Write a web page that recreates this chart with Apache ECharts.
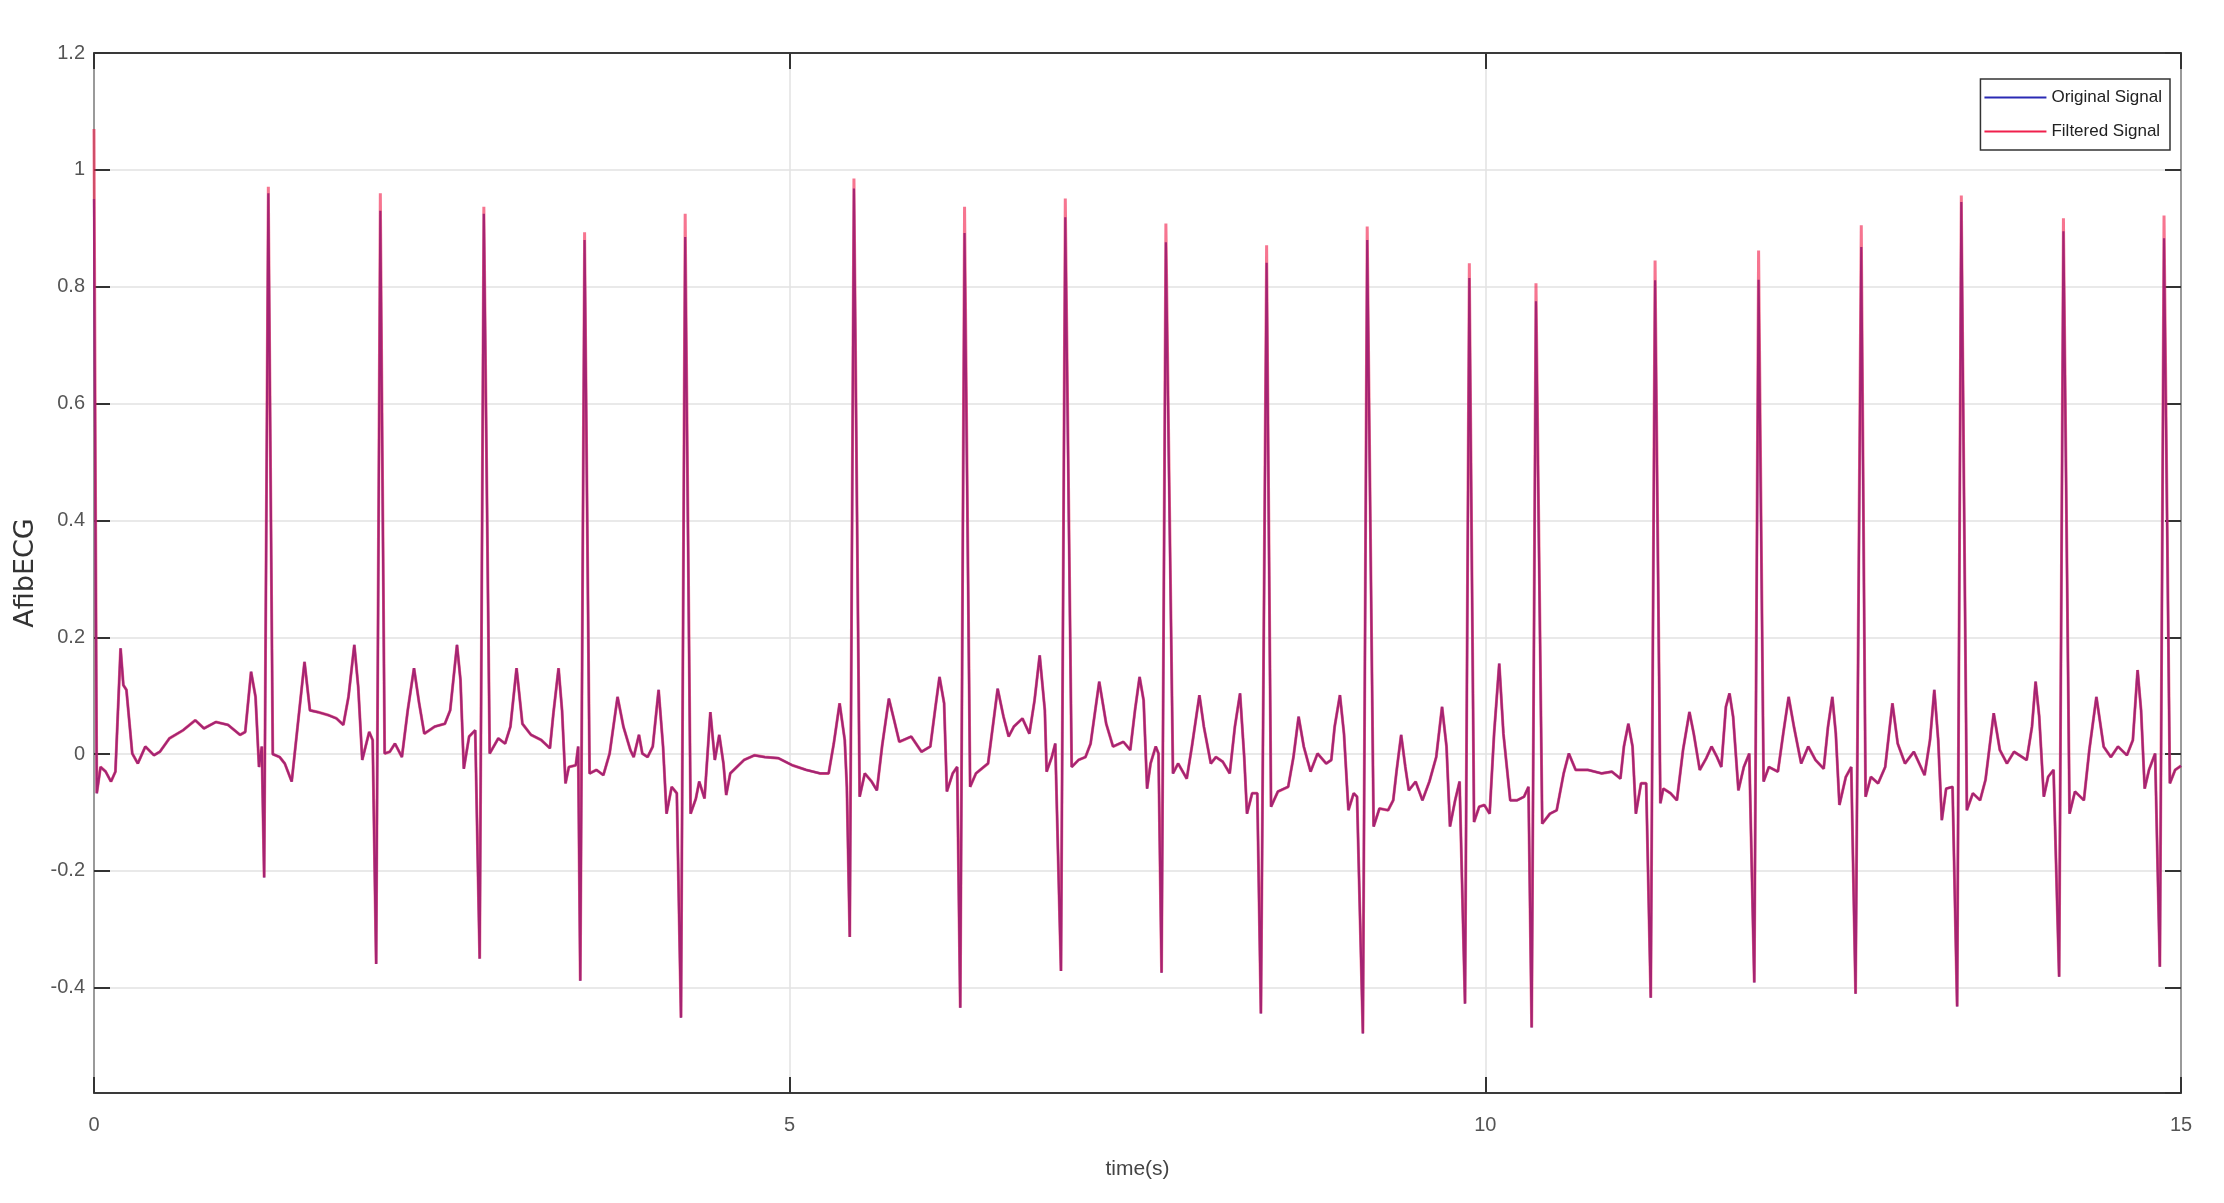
<!DOCTYPE html>
<html>
<head>
<meta charset="utf-8">
<title>AfibECG</title>
<script src="https://cdn.jsdelivr.net/npm/echarts@6.0.0/dist/echarts.min.js"></script>
<style>
	html, body { margin: 0; padding: 0; background: #fff; }
	#chart { width: 2224px; height: 1203px; }
</style>
</head>
<body>
<div id="chart"></div>
<script>
//时间轴 (s) - 各拐点
var timeSec = [
	0.000, 0.020, 0.047, 0.084, 0.122, 0.154, 0.191, 0.211, 0.233, 0.275, 0.315, 0.369, 0.431, 0.473, 0.542, 0.641, 0.728, 0.790, 0.876, 0.963,
	1.050, 1.087, 1.129, 1.161, 1.186, 1.206, 1.223, 1.253, 1.285, 1.334, 1.371, 1.421, 1.513, 1.552, 1.607, 1.681, 1.743, 1.792, 1.829, 1.871,
	1.899, 1.928, 1.978, 2.003, 2.028, 2.058, 2.089, 2.126, 2.163, 2.213, 2.255, 2.300, 2.337, 2.374, 2.448, 2.522, 2.560, 2.609, 2.634, 2.658,
	2.696, 2.740, 2.772, 2.802, 2.844, 2.906, 2.955, 2.993, 3.037, 3.079, 3.141, 3.215, 3.277, 3.302, 3.339, 3.364, 3.389, 3.413, 3.463, 3.480,
	3.495, 3.526, 3.562, 3.611, 3.661, 3.706, 3.763, 3.805, 3.855, 3.879, 3.917, 3.941, 3.979, 4.016, 4.058, 4.090, 4.115, 4.152, 4.189, 4.219,
	4.249, 4.288, 4.326, 4.350, 4.388, 4.430, 4.462, 4.494, 4.524, 4.544, 4.573, 4.672, 4.747, 4.821, 4.920, 5.019, 5.118, 5.218, 5.280, 5.317,
	5.359, 5.396, 5.411, 5.432, 5.462, 5.503, 5.540, 5.589, 5.627, 5.664, 5.713, 5.751, 5.788, 5.874, 5.948, 6.011, 6.048, 6.077, 6.110, 6.130,
	6.172, 6.204, 6.226, 6.257, 6.297, 6.339, 6.426, 6.495, 6.537, 6.574, 6.611, 6.673, 6.723, 6.760, 6.797, 6.834, 6.847, 6.884, 6.909, 6.950,
	6.981, 7.027, 7.076, 7.126, 7.163, 7.225, 7.275, 7.324, 7.399, 7.448, 7.482, 7.515, 7.544, 7.569, 7.594, 7.631, 7.651, 7.673, 7.704, 7.755,
	7.792, 7.854, 7.891, 7.945, 7.977, 8.027, 8.064, 8.113, 8.163, 8.200, 8.237, 8.267, 8.287, 8.324, 8.361, 8.387, 8.428, 8.460, 8.509, 8.583,
	8.621, 8.658, 8.695, 8.744, 8.794, 8.856, 8.893, 8.917, 8.955, 8.984, 9.016, 9.054, 9.078, 9.120, 9.151, 9.197, 9.239, 9.301, 9.338, 9.363,
	9.395, 9.425, 9.450, 9.499, 9.548, 9.598, 9.647, 9.689, 9.721, 9.746, 9.783, 9.815, 9.854, 9.885, 9.919, 9.956, 9.993, 10.031, 10.063, 10.100,
	10.130, 10.179, 10.229, 10.278, 10.310, 10.333, 10.364, 10.409, 10.464, 10.513, 10.563, 10.600, 10.649, 10.736, 10.835, 10.909, 10.971, 10.996, 11.028, 11.058,
	11.082, 11.119, 11.156, 11.189, 11.220, 11.258, 11.279, 11.331, 11.377, 11.421, 11.467, 11.498, 11.541, 11.588, 11.626, 11.665, 11.696, 11.729, 11.755, 11.781,
	11.819, 11.858, 11.897, 11.933, 11.964, 12.000, 12.038, 12.103, 12.141, 12.180, 12.218, 12.270, 12.321, 12.373, 12.432, 12.463, 12.494, 12.519, 12.545, 12.591,
	12.630, 12.661, 12.702, 12.733, 12.771, 12.823, 12.874, 12.926, 12.964, 13.016, 13.080, 13.157, 13.196, 13.227, 13.255, 13.281, 13.312, 13.358, 13.391, 13.421,
	13.461, 13.504, 13.556, 13.595, 13.654, 13.698, 13.749, 13.800, 13.891, 13.929, 13.955, 13.981, 14.014, 14.045, 14.084, 14.124, 14.155, 14.199, 14.238, 14.302,
	14.341, 14.392, 14.444, 14.496, 14.547, 14.611, 14.654, 14.688, 14.713, 14.739, 14.770, 14.814, 14.848, 14.878, 14.920, 14.958, 15.000
];
//滤波后信号
var filteredSig = [
	1.070, -0.067, -0.022, -0.030, -0.047, -0.030, 0.181, 0.118, 0.110, 0.001, -0.016, 0.013, -0.002, 0.004, 0.027, 0.041, 0.058, 0.044, 0.055, 0.050,
	0.033, 0.038, 0.141, 0.098, -0.022, 0.013, -0.211, 0.971, 0.000, -0.005, -0.016, -0.047, 0.158, 0.075, 0.072, 0.067, 0.061, 0.050, 0.098, 0.187,
	0.115, -0.010, 0.038, 0.024, -0.359, 0.960, 0.001, 0.004, 0.018, -0.005, 0.075, 0.147, 0.087, 0.035, 0.047, 0.052, 0.075, 0.187, 0.127, -0.025,
	0.030, 0.041, -0.350, 0.937, 0.001, 0.027, 0.018, 0.047, 0.147, 0.052, 0.033, 0.024, 0.010, 0.070, 0.147, 0.075, -0.050, -0.022, -0.019, 0.013,
	-0.388, 0.893, -0.033, -0.027, -0.036, 0.001, 0.098, 0.047, 0.007, -0.005, 0.033, 0.001, -0.005, 0.013, 0.110, 0.013, -0.102, -0.056, -0.067, -0.451,
	0.925, -0.102, -0.076, -0.047, -0.076, 0.072, -0.010, 0.033, -0.016, -0.070, -0.033, -0.010, -0.002, -0.005, -0.007, -0.019, -0.027, -0.033, -0.033, 0.018,
	0.087, 0.024, -0.056, -0.313, 0.985, -0.073, -0.033, -0.047, -0.062, 0.013, 0.095, 0.058, 0.021, 0.030, 0.004, 0.013, 0.081, 0.132, 0.087, -0.064,
	-0.033, -0.022, -0.434, 0.937, -0.056, -0.033, -0.016, 0.112, 0.064, 0.030, 0.047, 0.061, 0.035, 0.092, 0.169, 0.075, -0.030, -0.005, 0.018, -0.371,
	0.951, -0.022, -0.010, -0.005, 0.018, 0.124, 0.052, 0.013, 0.021, 0.007, 0.075, 0.132, 0.092, -0.059, -0.016, 0.013, 0.001, -0.374, 0.908, -0.033,
	-0.016, -0.042, 0.013, 0.101, 0.047, -0.016, -0.005, -0.013, -0.033, 0.047, 0.104, -0.005, -0.102, -0.067, -0.067, -0.444, 0.871, -0.090, -0.064, -0.056,
	-0.005, 0.064, 0.013, -0.030, 0.001, -0.016, -0.010, 0.047, 0.101, 0.035, -0.096, -0.067, -0.073, -0.478, 0.903, -0.124, -0.093, -0.096, -0.079, -0.027,
	0.033, -0.022, -0.062, -0.047, -0.079, -0.047, -0.005, 0.081, 0.013, -0.124, -0.079, -0.047, -0.427, 0.840, -0.116, -0.090, -0.087, -0.102, 0.035, 0.155,
	0.035, -0.079, -0.079, -0.073, -0.056, -0.468, 0.806, -0.119, -0.102, -0.096, -0.033, 0.001, -0.027, -0.027, -0.033, -0.030, -0.042, 0.013, 0.052, 0.013,
	-0.102, -0.050, -0.050, -0.417, 0.845, -0.084, -0.059, -0.067, -0.079, 0.007, 0.072, 0.035, -0.027, -0.007, 0.013, -0.005, -0.022, 0.081, 0.104, 0.064,
	-0.062, -0.022, 0.001, -0.391, 0.862, -0.047, -0.022, -0.030, 0.035, 0.098, 0.047, -0.016, 0.013, -0.010, -0.025, 0.047, 0.098, 0.035, -0.087, -0.039,
	-0.022, -0.410, 0.905, -0.073, -0.039, -0.050, -0.022, 0.087, 0.018, -0.016, 0.004, -0.036, 0.024, 0.110, 0.024, -0.113, -0.059, -0.056, -0.432, 0.956,
	-0.096, -0.067, -0.079, -0.044, 0.070, 0.007, -0.016, 0.004, -0.010, 0.047, 0.124, 0.064, -0.073, -0.039, -0.027, -0.381, 0.917, -0.102, -0.064, -0.079,
	0.007, 0.098, 0.013, -0.005, 0.013, -0.002, 0.024, 0.144, 0.075, -0.059, -0.027, 0.001, -0.364, 0.922, -0.050, -0.027, -0.020
];
//原始信号的R波峰值(其余拐点与滤波信号重合)
var originalStart = 0.950;
var originalRPeaks = [0.960, 0.930, 0.925, 0.880, 0.885, 0.968, 0.892, 0.919, 0.876, 0.841, 0.880, 0.815, 0.775, 0.811, 0.812, 0.868, 0.945, 0.895, 0.883];

//坐标轴范围
var xRange = [0, 15];
var yRange = [-0.58, 1.2];

$ = function(id) { return document.getElementById(id); };

window.onload = function() {
	var orig = buildOriginal();
	drawChart(pairUp(timeSec, orig), pairUp(timeSec, filteredSig));
};

//组装原始信号
function buildOriginal() {
	var arr = filteredSig.slice();
	var k = 0;
	arr[0] = originalStart;
	for (var i = 1; i < arr.length; i++) {
		if (filteredSig[i] > 0.5 && k < originalRPeaks.length) {
			arr[i] = originalRPeaks[k];
			k++;
		}
	}
	return arr;
}

function pairUp(xs, ys) {
	var out = [];
	for (var i = 0; i < xs.length; i++) {
		out.push([xs[i], ys[i]]);
	}
	return out;
}

function drawChart(origData, filtData) {
	var chart = echarts.init($('chart'));
	var font = '"Liberation Sans", Arial, sans-serif';
	var tickLen = 16;
	var option = {
		backgroundColor: '#ffffff',
		animation: false,
		grid: {
			left: 94,
			right: 43,
			top: 53,
			bottom: 110
		},
		legend: {
			data: ['Original Signal', 'Filtered Signal'],
			orient: 'vertical',
			right: 54,
			top: 79,
			padding: [10, 8, 10, 3],
			itemGap: 17,
			itemWidth: 62,
			itemHeight: 4,
			borderColor: '#333',
			borderWidth: 1.5,
			backgroundColor: '#fff',
			itemStyle: { opacity: 0 },
			lineStyle: { width: 2, opacity: 1 },
			textStyle: {
				fontFamily: font,
				fontSize: 17,
				color: '#222'
			}
		},
		xAxis: [{
			type: 'value',
			min: xRange[0],
			max: xRange[1],
			interval: 5,
			name: 'time(s)',
			nameLocation: 'middle',
			nameGap: 66,
			nameTextStyle: {
				fontFamily: font,
				fontSize: 21,
				color: '#444'
			},
			axisLine: { onZero: false, lineStyle: { color: '#3a3a3a', width: 2 } },
			axisTick: { inside: true, length: tickLen, lineStyle: { color: '#333', width: 2 } },
			axisLabel: {
				margin: 22,
				fontFamily: font,
				fontSize: 20,
				color: '#555'
			},
			splitLine: { show: true, lineStyle: { color: '#e2e2e2', width: 1.5 } }
		}, {
			type: 'value',
			position: 'top',
			min: xRange[0],
			max: xRange[1],
			interval: 5,
			axisLine: { onZero: false, lineStyle: { color: '#3a3a3a', width: 2 } },
			axisTick: { inside: true, length: tickLen, lineStyle: { color: '#333', width: 2 } },
			axisLabel: { show: false },
			splitLine: { show: false }
		}],
		yAxis: [{
			type: 'value',
			min: yRange[0],
			max: yRange[1],
			splitNumber: 9,
			name: 'AfibECG',
			nameLocation: 'middle',
			nameGap: 38,
			nameRotate: 90,
			nameTextStyle: {
				fontFamily: '"DejaVu Sans", sans-serif',
				fontSize: 27,
				color: '#333'
			},
			axisLine: { show: true, onZero: false, lineStyle: { color: '#9a9a9a', width: 2 } },
			axisTick: { show: true, inside: true, length: tickLen, lineStyle: { color: '#333', width: 2 } },
			axisLabel: {
				margin: 9,
				showMinLabel: false,
				fontFamily: font,
				fontSize: 20,
				color: '#555',
				formatter: function(v) {
					if (Math.abs(v * 5 - Math.round(v * 5)) > 1e-6) return '';
					return String(Math.round(v * 10) / 10);
				}
			},
			splitLine: { show: true, lineStyle: { color: '#e2e2e2', width: 1.5 } }
		}, {
			type: 'value',
			position: 'right',
			min: yRange[0],
			max: yRange[1],
			splitNumber: 9,
			axisLine: { show: true, onZero: false, lineStyle: { color: '#9a9a9a', width: 2 } },
			axisTick: { show: true, inside: true, length: tickLen, lineStyle: { color: '#333', width: 2 } },
			axisLabel: { show: false },
			splitLine: { show: false }
		}],
		series: [{
			name: 'Original Signal',
			type: 'line',
			xAxisIndex: 0,
			yAxisIndex: 0,
			symbol: 'none',
			color: '#2a2ab4',
			lineStyle: { width: 2.2, color: '#2a2ab4' },
			data: origData
		}, {
			name: 'Filtered Signal',
			type: 'line',
			xAxisIndex: 0,
			yAxisIndex: 0,
			symbol: 'none',
			color: '#f0204c',
			lineStyle: { width: 3, color: '#f0204c', opacity: 0.62 },
			data: filtData
		}]
	};
	chart.setOption(option);
}
</script>
</body>
</html>
